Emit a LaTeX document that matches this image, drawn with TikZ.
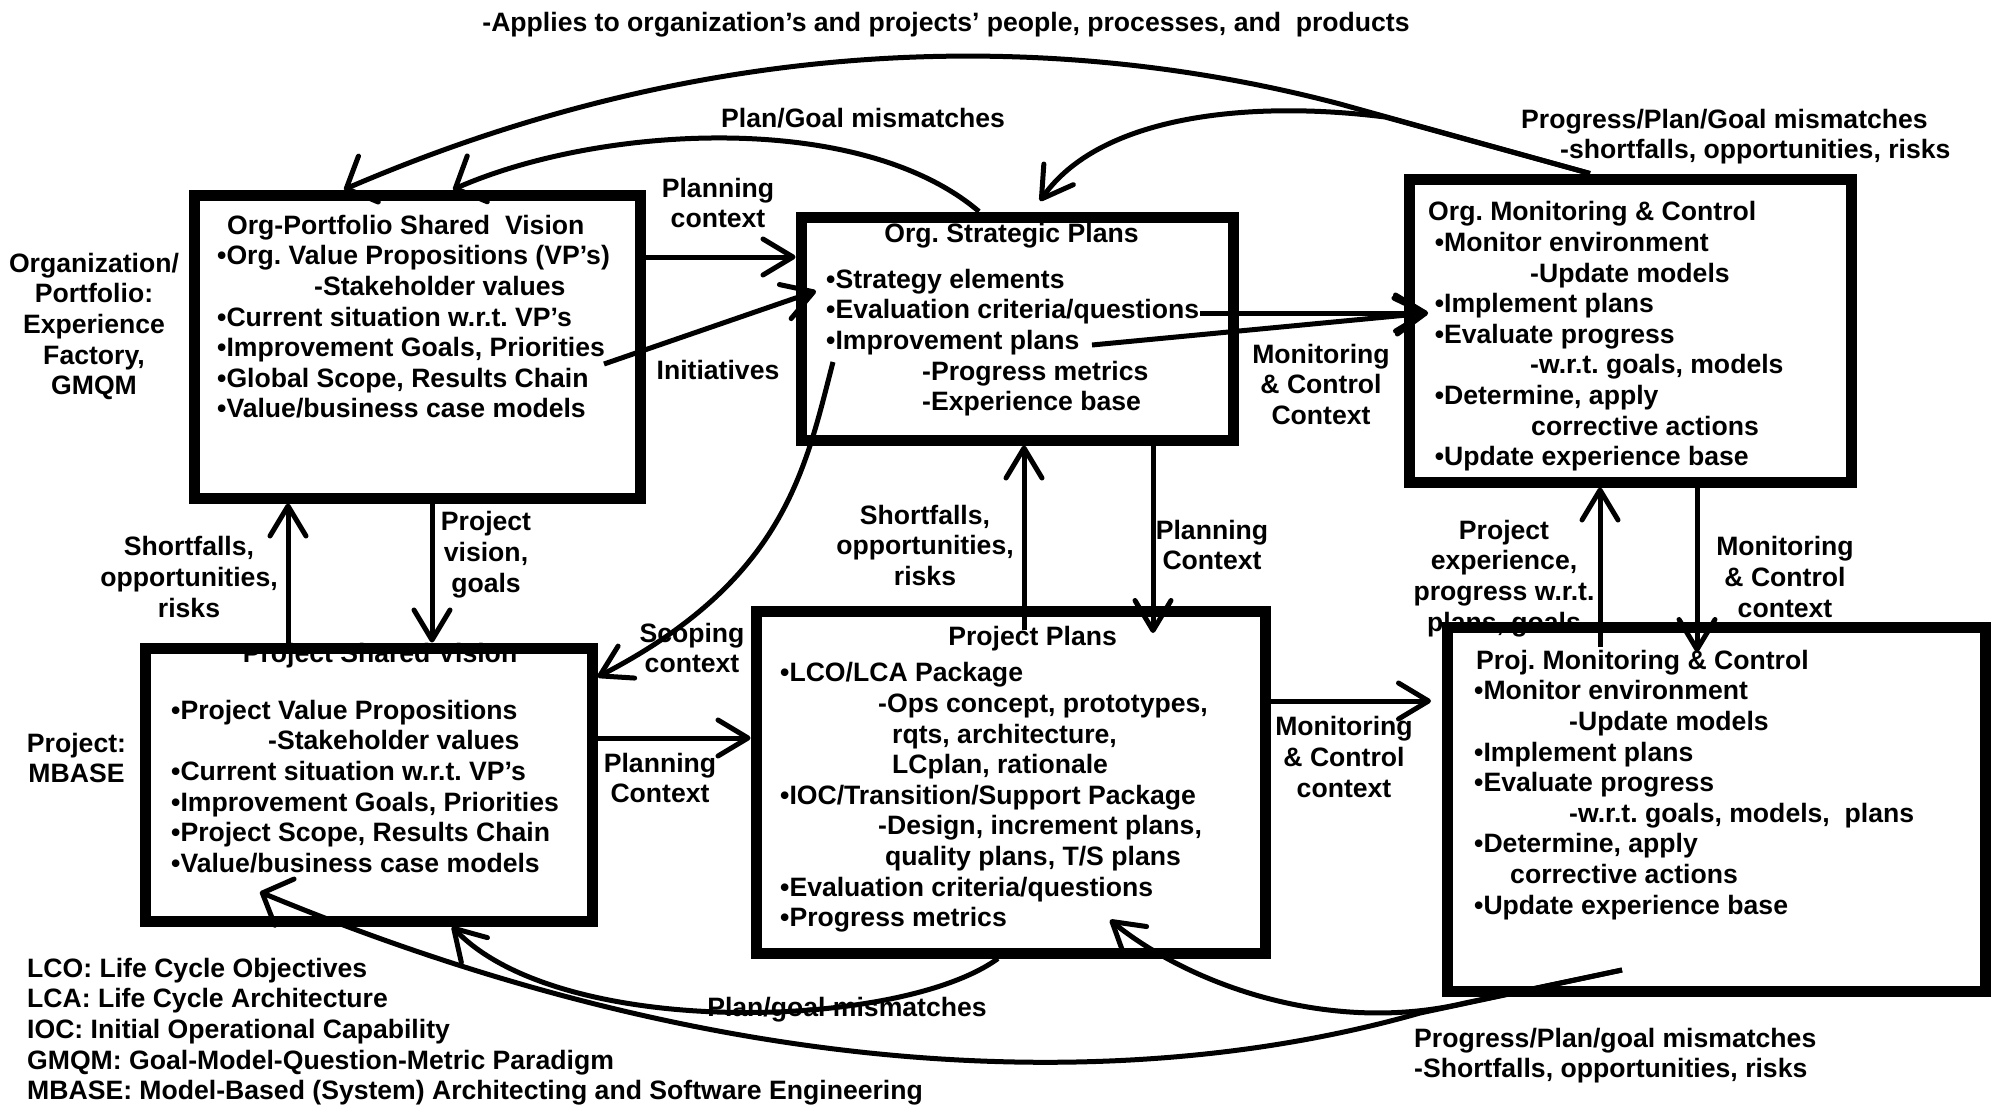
\documentclass[tikz,border=0pt]{standalone}
\usepackage{fontspec}
\setmainfont{Liberation Sans}
\frenchspacing
\usetikzlibrary{arrows.meta}
\tikzset{
  panel/.style={draw, line width=11pt, inner sep=0pt},
  lst/.style={anchor=north west, align=left, inner sep=0pt},
  lbl/.style={anchor=north, align=center, inner sep=0pt},
  ttl/.style={anchor=base, inner sep=0pt},
  flow/.style={line width=5pt, -{Straight Barb[length=30pt,width=36pt,round]}},
  flowwide/.style={line width=5pt, -{Straight Barb[length=24pt,width=50pt,round]}}
}

\begin{document}
\begin{tikzpicture}[x=1pt,y=1pt,yscale=-1,xscale=1,font=\fontsize{26.6pt}{30.6pt}\selectfont\bfseries]
\useasboundingbox (0,0) rectangle (1997,1111);
%Boxes
\node[panel, minimum width=446, minimum height=303] (ospv) at (417,346.5) {};
\node[panel, minimum width=432, minimum height=223] (osp) at (1017,328.5) {};
\node[panel, minimum width=442, minimum height=303] (omc) at (1630,330.5) {};
\node[panel, minimum width=447, minimum height=273] (psv) at (368.5,784.5) {};
\node[panel, minimum width=509, minimum height=342] (pp) at (1010.5,782) {};
\node[panel, minimum width=538, minimum height=364] (pmc) at (1716,809.5) {};

%Box texts
\node[lst] (ospv-txt) at (217,212.6) {\strut\hspace*{10pt}Org-Portfolio Shared\ \ Vision\\
  •Org. Value Propositions (VP’s)\\
  \hspace*{97pt}-Stakeholder values\\
  •Current situation w.r.t. VP’s\\
  •Improvement Goals, Priorities\\
  •Global Scope, Results Chain\\
  •Value/business case models};
\node[ttl] (osp-ttl) at (1011.5,242) {Org. Strategic Plans};
\node[lst] (osp-txt) at (826,266.6) {\strut•Strategy elements\\
  •Evaluation criteria/questions\\
  •Improvement plans\\
  \hspace*{96pt}-Progress metrics\\
  \hspace*{96pt}-Experience base};
\node[lst] (omc-txt) at (1428,199.3) {\strut Org. Monitoring \& Control\\
  \hspace*{6.6pt}•Monitor environment\\
  \hspace*{102pt}-Update models\\
  \hspace*{6.6pt}•Implement plans\\
  \hspace*{6.6pt}•Evaluate progress\\
  \hspace*{102pt}-w.r.t. goals, models\\
  \hspace*{6.6pt}•Determine, apply\\
  \hspace*{103pt}corrective actions\\
  \hspace*{6.6pt}•Update experience base};
\node[ttl] (psv-ttl) at (380,662) {Project Shared Vision};
\node[lst] (psv-txt) at (171,697.6) {\strut•Project Value Propositions\\
  \hspace*{97pt}-Stakeholder values\\
  •Current situation w.r.t. VP’s\\
  •Improvement Goals, Priorities\\
  •Project Scope, Results Chain\\
  •Value/business case models};
\node[ttl] (pp-ttl) at (1032.6,645.7) {Project Plans};
\node[lst] (pp-txt) at (780,660.3) {\strut•LCO/LCA Package\\
  \hspace*{98pt}-Ops concept, prototypes,\\
  \hspace*{112pt}rqts, architecture,\\
  \hspace*{112pt}LCplan, rationale\\
  •IOC/Transition/Support Package\\
  \hspace*{98pt}-Design, increment plans,\\
  \hspace*{105pt}quality plans, T/S plans\\
  •Evaluation criteria/questions\\
  •Progress metrics};
\node[lst] (pmc-txt) at (1474,647.6) {\strut\hspace*{2pt}Proj. Monitoring \& Control\\
  •Monitor environment\\
  \hspace*{95pt}-Update models\\
  •Implement plans\\
  •Evaluate progress\\
  \hspace*{95pt}-w.r.t. goals, models,\ \ plans\\
  •Determine, apply\\
  \hspace*{36pt}corrective actions\\
  •Update experience base};

%Side and connector labels
\node[lbl] (top-lbl) at (946,9.6) {\strut-Applies to organization’s and projects’ people, processes, and\ \ products};
\node[lbl] (org-lbl) at (94,250.6) {\strut Organization/\\Portfolio:\\Experience\\Factory,\\GMQM};
\node[lbl] (prj-lbl) at (76.5,730.6) {\strut Project:\\MBASE};
\node[lst] (pgm-lbl) at (721,105.6) {\strut Plan/Goal mismatches};
\node[lst] (ppg-lbl) at (1521,106.6) {\strut Progress/Plan/Goal mismatches\\\hspace*{39pt}-shortfalls, opportunities, risks};
\node[lbl] (pc1-lbl) at (718,175.6) {\strut Planning\\context};
\node[lbl] (ini-lbl) at (718,357.6) {\strut Initiatives};
\node[lbl] (mc1-lbl) at (1321,341.6) {\strut Monitoring\\\& Control\\Context};
\node[lbl] (sf1-lbl) at (189,534.3) {\strut Shortfalls,\\opportunities,\\risks};
\node[lbl] (pv-lbl) at (486,509.3) {\strut Project\\vision,\\goals};
\node[lbl] (sf2-lbl) at (925,502.6) {\strut Shortfalls,\\opportunities,\\risks};
\node[lbl] (pc2-lbl) at (1212,517.6) {\strut Planning\\Context};
\node[lbl] (sc-lbl) at (692,620.6) {\strut Scoping\\context};
\node[lbl] (pc3-lbl) at (660,750.6) {\strut Planning\\Context};
\node[lbl] (mc2-lbl) at (1344,714.3) {\strut Monitoring\\\& Control\\context};
\node[lbl] (pe-lbl) at (1504,517.6) {\strut Project\\experience,\\progress w.r.t.\\plans, goals};
\node[lbl] (mc3-lbl) at (1785,534.3) {\strut Monitoring\\\& Control\\context};
\node[lbl] (pgb-lbl) at (847,994.6) {\strut Plan/goal mismatches};
\node[lst] (ppb-lbl) at (1414,1025.6) {\strut Progress/Plan/goal mismatches\\-Shortfalls, opportunities, risks};
\node[lst] (legend) at (27,955.6) {\strut LCO: Life Cycle Objectives\\
  LCA: Life Cycle Architecture\\
  IOC: Initial Operational Capability\\
  GMQM: Goal-Model-Question-Metric Paradigm\\
  MBASE: Model-Based (System) Architecting and Software Engineering};

%Free ends
\coordinate (ini-s) at (604,364);
\coordinate (ini-e) at (816,291);
\coordinate (ev-s) at (1200,313);
\coordinate (ip-s) at (1092,345);
\coordinate (mc-e) at (1428,313);
\coordinate (sc-s) at (833,362);
\coordinate (sf-s) at (1024,630);
\coordinate (pc-e) at (1153,633);
\coordinate (mc2-e) at (1431,701);
\coordinate (pe-s) at (1600,647);
\coordinate (mcx-e) at (1697,652);
\coordinate (pg-e) at (1040,201);
\coordinate (pm-s) at (1622,970);
\coordinate (pm-e) at (260,892);
\coordinate (pm2-e) at (1110,920);

%Straight Lines
\draw[flow] (ospv.east |- 0,257) -- (osp.west |- 0,257);
\draw[flow] (ini-s) -- (ini-e);
\draw[flow] (ev-s) -- (mc-e);
\draw[flow] (ip-s) -- (mc-e);
\draw[flow] (ospv.south -| 432,0) -- (psv.north -| 432,0);
\draw[flow] (psv.north -| 288,0) -- (ospv.south -| 288,0);
\draw[flow] (psv.east |- 0,738) -- (pp.west |- 0,738);
\draw[flow] (sf-s) -- (osp.south -| 1024,0);
\draw[flow] (osp.south -| 1153,0) -- (pc-e);
\draw[flow] (pp.east |- 0,701) -- (mc2-e);
\draw[flow] (pe-s) -- (omc.south -| 1600,0);
\draw[flow] (omc.south -| 1697,0) -- (mcx-e);

%Curve Lines
\draw[flowwide] (omc.north -| 1590,0) -- (1340,104) .. controls (1100,41) and (750,15) .. (ospv.north -| 344,0);
\draw[flow] (omc.north -| 1590,0) -- (1385,117) .. controls (1250,100) and (1100,115) .. (pg-e);
\draw[flowwide] (osp.north -| 979,0) .. controls (860,110) and (600,125) .. (ospv.north -| 453,0);
\draw[flow] (sc-s) .. controls (805,470) and (785,580) .. (psv.east |- 0,677);
\draw[flow] (pp.south -| 998,0) .. controls (900,1030) and (560,1040) .. (psv.south -| 452,0);
\draw[flowwide] (pm-s) -- (1420,1013) .. controls (1150,1090) and (750,1095) .. (pm-e);
\draw[flow] (pm-s) -- (1465,1003) .. controls (1330,1035) and (1190,985) .. (pm2-e);
\end{tikzpicture}
\end{document}
